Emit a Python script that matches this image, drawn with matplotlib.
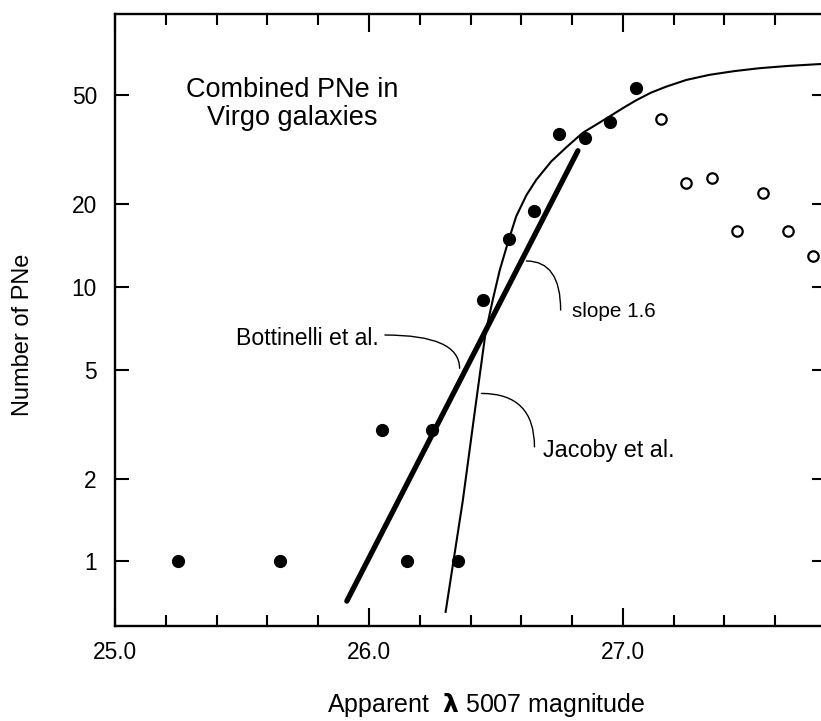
import matplotlib
matplotlib.use("Agg")
import matplotlib.pyplot as plt
from matplotlib.ticker import FixedLocator, MultipleLocator, NullLocator, FixedFormatter

plt.rcParams['font.family'] = ['Liberation Sans', 'DejaVu Sans']

# observed counts (filled: complete sample, open: incomplete)
filled_mag = [25.25, 25.65, 26.05, 26.15, 26.25, 26.35, 26.45, 26.55, 26.65, 26.75, 26.85, 26.95, 27.05]
filled_n = [1, 1, 3, 1, 3, 1, 9, 15, 19, 36, 35, 40, 53]
open_mag = [27.15, 27.25, 27.35, 27.45, 27.55, 27.65, 27.75]
open_n = [41, 24, 25, 16, 22, 16, 13]

# Bottinelli et al. straight fit (end points)
bott_mag = [25.913, 26.823]
bott_n = [0.715, 31.4]

# Jacoby et al. luminosity function
jac_mag = [26.302, 26.370, 26.423, 26.459, 26.488, 26.515, 26.547, 26.580, 26.620,
           26.659, 26.718, 26.777, 26.842, 26.941, 27.00, 27.053, 27.11, 27.171,
           27.25, 27.341, 27.44, 27.538, 27.65, 27.774, 27.85]
jac_n = [0.653, 1.67, 3.87, 6.78, 9.0, 11.5, 14.5, 18.1, 21.6,
         24.6, 28.7, 32.3, 36.5, 41.5, 44.9, 48.0, 51.1, 53.8,
         56.9, 59.4, 61.3, 62.8, 64.0, 65.0, 65.5]

yticks = [1, 2, 5, 10, 20, 50]
ytick_labels = ['1', '2', '5', '10', '20', '50']
xticks = [25.0, 26.0, 27.0]
xtick_labels = ['25.0', '26.0', '27.0']

fig = plt.figure(figsize=(8.21, 7.21), dpi=100)
ax = fig.add_axes([115 / 821, 1 - 626 / 721, 711 / 821, 612 / 721])

ax.plot(jac_mag, jac_n, color='black', lw=1.5, solid_joinstyle='round')
ax.plot(bott_mag, bott_n, color='black', lw=3.8, solid_capstyle='round')
ax.plot(filled_mag, filled_n, 'o', color='black', ms=8.5, zorder=5)
ax.plot(open_mag, open_n, 'o', mfc='white', mec='black', mew=1.6, ms=7.5, zorder=5)

ax.set_yscale('log')
ax.set_xlim(25.0, 27.8)
ax.set_ylim(0.58, 99)

ax.yaxis.set_major_locator(FixedLocator(yticks))
ax.yaxis.set_major_formatter(FixedFormatter(ytick_labels))
ax.yaxis.set_minor_locator(NullLocator())
ax.xaxis.set_major_locator(FixedLocator(xticks))
ax.xaxis.set_major_formatter(FixedFormatter(xtick_labels))
ax.xaxis.set_minor_locator(MultipleLocator(0.2))

ax.tick_params(axis='both', which='both', direction='in', top=True, right=True,
               width=1.5, labelsize=16.4, color='black')
ax.tick_params(axis='y', which='major', length=10, pad=13)
ax.tick_params(axis='x', which='major', length=13, pad=10.5)
ax.tick_params(axis='x', which='minor', length=8)
for s in ax.spines.values():
    s.set_linewidth(1.7)

# annotations with curved leaders
leader = dict(arrowstyle='-', lw=1.0, color='black', shrinkA=0, shrinkB=0,
              connectionstyle='angle3,angleA=0,angleB=90')
ax.annotate('', xy=(26.357, 5.05), xytext=(26.063, 6.68), arrowprops=leader)
ax.annotate('', xy=(26.755, 8.24), xytext=(26.620, 12.44), arrowprops=leader)
ax.annotate('', xy=(26.652, 2.61), xytext=(26.443, 4.09), arrowprops=leader)

ax.text(26.038, 6.51, 'Bottinelli et al.', ha='right', va='center', fontsize=16.6)
ax.text(26.798, 8.17, 'slope 1.6', ha='left', va='center', fontsize=14.9)
ax.text(26.684, 2.54, 'Jacoby et al.', ha='left', va='center', fontsize=16.8)
ax.text(0.2497, 0.853, 'Combined PNe in\nVirgo galaxies', transform=ax.transAxes,
        ha='center', va='center', fontsize=19.5, linespacing=1.1)

fig.text(23 / 821, 1 - 335 / 721, 'Number of PNe', rotation=90, ha='center', va='center',
         fontsize=17)
fig.text(486 / 821, 1 - 705 / 721, 'Apparent  $\\boldsymbol{\\lambda}$ 5007 magnitude',
         ha='center', va='center', fontsize=18)

fig.savefig('out.png', dpi=100)
